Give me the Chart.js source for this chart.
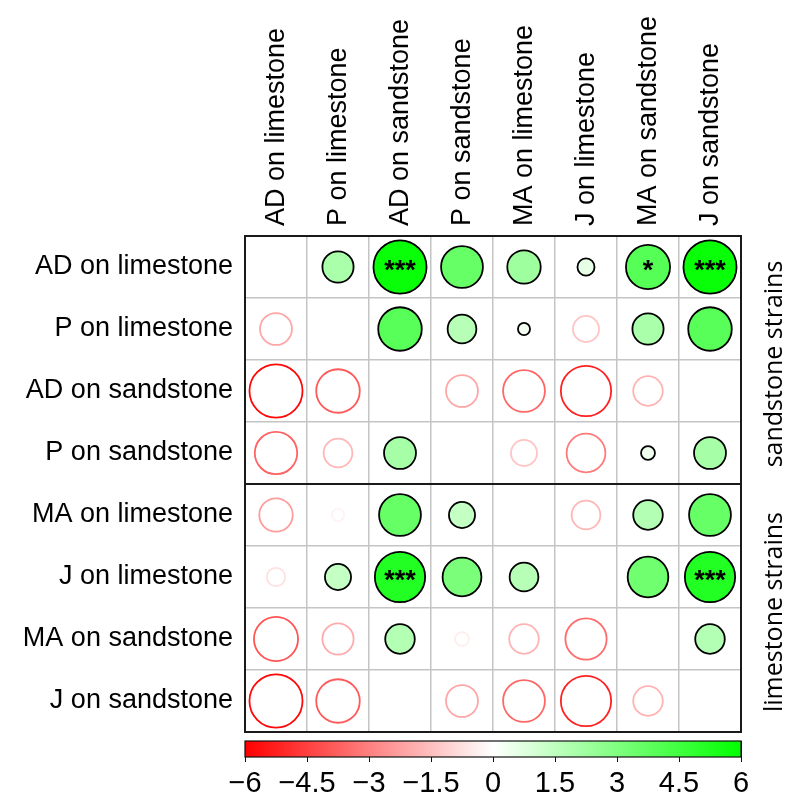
<!DOCTYPE html>
<html>
<head>
<meta charset="utf-8">
<script src="https://cdn.jsdelivr.net/npm/chart.js@4/dist/chart.umd.min.js"></script>
<style>
  html, body { margin: 0; padding: 0; background: #fff; }
  #wrap { width: 800px; height: 808px; }
</style>
</head>
<body>
<div id="wrap"><canvas id="matrix" width="800" height="808"></canvas></div>
<script>
// strain / substrate combinations (rows and columns are the same)
const colNames = ['AD on limestone', 'P on limestone', 'AD on sandstone', 'P on sandstone',
                  'MA on limestone', 'J on limestone', 'MA on sandstone', 'J on sandstone'];
const rowNames = colNames.slice();

// one array per row, values read from the circles (null = no circle)
const adLimestone = [null, 2.0, 5.8, 3.6, 2.3, 0.6, 4.0, 5.8];
const pLimestone  = [-2.1, null, 3.9, 1.7, 0.3, -1.4, 2.0, 3.9];
const adSandstone = [-5.8, -3.9, null, -2.1, -3.6, -5.2, -1.8, null];
const pSandstone  = [-3.7, -1.7, 2.1, null, -1.4, -3.1, 0.4, 2.1];
const maLimestone = [-2.3, -0.3, 3.6, 1.4, null, -1.7, 1.8, 3.6];
const jLimestone  = [-0.7, 1.4, 5.2, 3.1, 1.7, null, 3.4, 5.2];
const maSandstone = [-4.0, -2.0, 1.8, -0.4, -1.8, -3.5, null, 1.8];
const jSandstone  = [-5.8, -3.9, null, -2.1, -3.6, -5.2, -1.8, null];
const rowValues = [adLimestone, pLimestone, adSandstone, pSandstone,
                   maLimestone, jLimestone, maSandstone, jSandstone];

// significance marks: [row, column, label]
const signif = [
    ['AD on limestone', 'AD on sandstone', '***'],
    ['AD on limestone', 'MA on sandstone', '*'],
    ['AD on limestone', 'J on sandstone', '***'],
    ['J on limestone', 'AD on sandstone', '***'],
    ['J on limestone', 'J on sandstone', '***']
];

// row groups shown on the right
const groupLabels = ['sandstone strains', 'limestone strains'];
const groupSizes = [4, 4];

// colour key
const cbMin = -6;
const cbMax = 6;
const cbTicks = [-6, -4.5, -3, -1.5, 0, 1.5, 3, 4.5, 6];

const MAX_R = 27;
const LABEL_FONT = '"Liberation Sans", Arial, sans-serif';

function valueColor(v) {
    const t = Math.min(Math.abs(v) / cbMax, 1);
    const c = Math.round(255 * (1 - t));
    return v >= 0 ? `rgb(${c},255,${c})` : `rgb(255,${c},${c})`;
}

const points = [];
rowValues.forEach((vals, i) => {
    vals.forEach((v, j) => {
        if (v === null) return;
        points.push({ x: colNames[j], y: rowNames[i], v: v });
    });
});

const overlayPlugin = {
    id: 'overlay',
    afterDraw(chart) {
        const ctx = chart.ctx;
        const area = chart.chartArea;
        const xs = chart.scales.x;
        const ys = chart.scales.y;
        ctx.save();

        // column labels, reading upwards
        ctx.fillStyle = '#000';
        ctx.font = '27px ' + LABEL_FONT;
        ctx.textAlign = 'left';
        ctx.textBaseline = 'middle';
        colNames.forEach((name, j) => {
            ctx.save();
            ctx.translate(xs.getPixelForValue(j) + 1, area.top - 10);
            ctx.rotate(-Math.PI / 2);
            ctx.fillText(name, 0, 0);
            ctx.restore();
        });

        // gap between the matrix and the colour bar
        const barTop = area.bottom + 9;
        const barBottom = area.bottom + 25;
        ctx.fillStyle = '#fff';
        ctx.fillRect(area.left - 2, area.bottom + 1, area.right - area.left + 4, barTop - area.bottom - 1);

        // colour bar
        const grad = ctx.createLinearGradient(area.left, 0, area.right, 0);
        for (let k = 0; k <= 24; k++) {
            const v = cbMin + (cbMax - cbMin) * k / 24;
            grad.addColorStop(k / 24, valueColor(v));
        }
        ctx.fillStyle = grad;
        ctx.fillRect(area.left, barTop, area.right - area.left, barBottom - barTop);
        ctx.strokeStyle = '#111';
        ctx.lineWidth = 1.2;
        ctx.strokeRect(area.left, barTop, area.right - area.left, barBottom - barTop);

        // significance stars
        ctx.fillStyle = '#000';
        ctx.font = 'bold 27px ' + LABEL_FONT;
        ctx.textAlign = 'center';
        ctx.textBaseline = 'alphabetic';
        signif.forEach(([r, c, s]) => {
            const px = xs.getPixelForValue(colNames.indexOf(c));
            const py = ys.getPixelForValue(rowNames.indexOf(r));
            ctx.fillText(s, px, py + 12);
        });

        // frame and group separator
        ctx.strokeStyle = '#1a1a1a';
        ctx.lineWidth = 2;
        ctx.strokeRect(area.left, area.top, area.right - area.left, area.bottom - area.top);
        let start = 0;
        const cell = (area.bottom - area.top) / rowNames.length;
        groupSizes.forEach((n, g) => {
            if (g > 0) {
                const y = area.top + start * cell;
                ctx.beginPath();
                ctx.moveTo(area.left, y);
                ctx.lineTo(area.right, y);
                ctx.stroke();
            }
            // group label, rotated
            const mid = area.top + (start + n / 2) * cell;
            ctx.save();
            ctx.translate(area.right + 34, mid + 4);
            ctx.rotate(-Math.PI / 2);
            ctx.font = '25px "Open Sans", sans-serif';
            ctx.fillStyle = '#000';
            ctx.textAlign = 'center';
            ctx.textBaseline = 'middle';
            ctx.fillText(groupLabels[g], 0, 0);
            ctx.restore();
            start += n;
        });

        ctx.restore();
    }
};

new Chart(document.getElementById('matrix'), {
    type: 'bubble',
    data: {
        datasets: [{
            data: points,
            backgroundColor: (c) => c.raw && c.raw.v > 0 ? valueColor(c.raw.v) : 'rgba(255,255,255,0)',
            borderColor: (c) => c.raw && c.raw.v > 0 ? '#000' : valueColor(c.raw ? c.raw.v : 0),
            borderWidth: 1.8,
            radius: (c) => c.raw ? MAX_R * Math.sqrt(Math.abs(c.raw.v) / cbMax) : 0,
            hoverRadius: 0
        }]
    },
    options: {
        responsive: false,
        animation: false,
        events: [],
        layout: { padding: { left: 0, right: 59, top: 0, bottom: 0 } },
        plugins: {
            legend: { display: false },
            tooltip: { enabled: false }
        },
        scales: {
            x: {
                type: 'category',
                labels: colNames,
                position: 'top',
                offset: true,
                afterFit: (s) => { s.height = 236; },
                grid: { offset: true, color: '#c4c4c4', lineWidth: 1.5, drawTicks: false },
                border: { display: false },
                ticks: { display: false }
            },
            y: {
                type: 'category',
                labels: rowNames,
                position: 'left',
                offset: true,
                afterFit: (s) => { s.width = 245; },
                grid: { offset: true, color: '#c4c4c4', lineWidth: 1.5, drawTicks: false },
                border: { display: false },
                ticks: {
                    autoSkip: false,
                    padding: 12,
                    color: '#000',
                    font: { family: LABEL_FONT, size: 27 }
                }
            },
            cb: {
                type: 'linear',
                axis: 'x',
                position: 'bottom',
                min: cbMin,
                max: cbMax,
                afterFit: (s) => { s.height = 76; },
                afterBuildTicks: (s) => { s.ticks = cbTicks.map(v => ({ value: v })); },
                grid: { drawOnChartArea: false, drawTicks: true, tickLength: 30, color: '#111', lineWidth: 1 },
                border: { display: false },
                ticks: {
                    autoSkip: false,
                    minRotation: 0,
                    maxRotation: 0,
                    padding: 5,
                    color: '#000',
                    font: { family: LABEL_FONT, size: 29 },
                    callback: (v) => (v < 0 ? '\u2212' + Math.abs(v) : String(v))
                }
            }
        }
    },
    plugins: [overlayPlugin]
});
</script>
</body>
</html>
